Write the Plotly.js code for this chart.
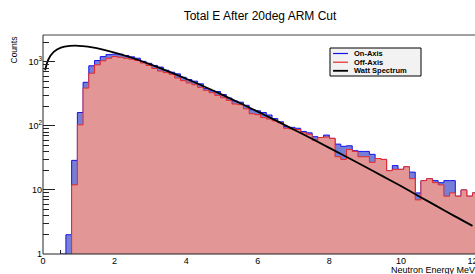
<!DOCTYPE html>
<html>
<head>
<meta charset="utf-8">
<script src="https://cdn.plot.ly/plotly-3.0.1.min.js"></script>
<style>html,body{margin:0;padding:0;background:#fff;overflow:hidden}</style>
</head>
<body>
<div id="chart" style="width:475px;height:274px"></div>
<script>
// ---- data ----
const binWidth = 0.16;   // MeV
const onAxis = [0,0,0,1,2,29,162,480,870,1050,1210,1300,1320,1320,1260,1200,1140,1020,950,880,
  830,740,690,650,575,530,500,455,385,355,345,310,272,245,235,210,180,172,162,148,
  130,116,98,95,92,82,78,68,66,72,64,52,48,49,41,40,40,36,31,30,
  20,24,21,23,19,9,14,15,14,13,14,14,8,10,8,9];
const offAxis = [0,0,0,0,0,12,104,390,665,900,1040,1140,1210,1180,1140,1100,1050,960,880,790,
  720,680,640,560,510,470,440,400,360,330,300,275,250,220,215,185,155,150,135,128,
  120,112,92,90,88,78,74,60,66,67,64,33,30,43,40,33,33,27,31,30,
  20,21,21,23,15,7,14,15,13,12,8,9,8,10,8,9];
const wattE = [0.06,0.15,0.3,0.5,0.75,1,1.25,1.5,2,2.5,3,3.5,4,4.5,5,5.5,6,6.5,7,7.5,8,8.5,9,9.5,10,10.5,11,11.5,12];
const wattY = [740,1090,1430,1670,1775,1785,1730,1640,1400,1150,915,712,546,413,308,228,167,122,88,63.5,45.5,32.4,23,16.3,11.5,8.0,5.6,3.9,2.75];
const xTicks = [0,2,4,6,8,10,12];
const yTickVals = [1,10,100,1000];
const yTickText = ['1','10','10<sup>2</sup>','10<sup>3</sup>'];
const legendNames = ['On-Axis','Off-Axis','Watt Spectrum'];

// ---- geometry ----
const L = 43, T = 35, W = 475 - 43, H = 219;
const px = x => (x - L) / W;
const py = y => 1 - (y - T) / H;

const blueLine = 'rgb(20,20,235)', redLine = 'rgb(230,40,40)';

function stepTrace(vals, name, lineColor, fillColor) {
  const xs = vals.map((v, i) => i * binWidth);
  xs.push(vals.length * binWidth);
  const ys = vals.map(v => v > 0 ? v : 0.01);
  ys.push(ys[ys.length - 1]);
  return {x: xs, y: ys, type: 'scatter', mode: 'lines', name: name,
    line: {shape: 'hv', color: lineColor, width: 1}, fill: 'tozeroy', fillcolor: fillColor,
    hoverinfo: 'skip', showlegend: false};
}

const traces = [
  stepTrace(onAxis, legendNames[0], blueLine, 'rgb(118,126,214)'),
  stepTrace(offAxis, legendNames[1], redLine, 'rgb(226,150,150)'),
  {x: wattE, y: wattY, type: 'scatter', mode: 'lines', name: legendNames[2],
   line: {color: '#000', width: 1.8, shape: 'spline', smoothing: 1}, showlegend: false, hoverinfo: 'skip'}
];

const minorVals = [];
[1,10,100,1000].forEach(d => { for (let m = 2; m <= 9; m++) minorVals.push(m * d); });

const font = 'Liberation Sans, Arial, Helvetica, sans-serif';
const shapes = [
  {type:'line', xref:'paper', yref:'paper', x0:0, x1:1.02, y0:0, y1:0, line:{color:'#222', width:1}, layer:'above'},
  {type:'line', xref:'paper', yref:'paper', x0:0, x1:1.02, y0:1, y1:1, line:{color:'#444', width:1}, layer:'above'},
  {type:'line', xref:'paper', yref:'paper', x0:0, x1:0, y0:0, y1:1, line:{color:'#222', width:1}, layer:'above'},
  // legend box
  {type:'rect', xref:'paper', yref:'paper', x0:px(330), x1:px(421), y0:py(76), y1:py(48),
   fillcolor:'#f2f2f2', line:{color:'#000', width:1}, layer:'above'}
];
const legColors = [blueLine, redLine, '#000'];
const legY = [53.5, 62.2, 70.8];
const annotations = [];
legendNames.forEach((n, i) => {
  shapes.push({type:'line', xref:'paper', yref:'paper', x0:px(333), x1:px(348), y0:py(legY[i]), y1:py(legY[i]),
    line:{color:legColors[i], width: i===2 ? 1.8 : 1.2}, layer:'above'});
  annotations.push({xref:'paper', yref:'paper', x:px(352), y:py(legY[i]), xanchor:'left', yanchor:'middle',
    text:'<b>' + n + '</b>', showarrow:false, font:{family:font, size:7.5, color:'#000'}});
});
annotations.push({xref:'paper', yref:'paper', x:px(14), y:py(49.5), textangle:-90, xanchor:'center', yanchor:'middle',
  text:'Counts', showarrow:false, font:{family:font, size:8.5, color:'#000'}});
annotations.push({xref:'paper', yref:'paper', x:px(477), y:py(269.5), xanchor:'right', yanchor:'middle',
  text:'Neutron Energy MeV', showarrow:false, font:{family:font, size:9, color:'#000'}});

const layout = {
  width: 475, height: 274,
  margin: {l: L, r: 0, t: T, b: 274 - T - H, pad: 0},
  paper_bgcolor: '#fff', plot_bgcolor: '#fff',
  showlegend: false,
  title: {text: 'Total E After 20deg ARM Cut', xref:'container', yref:'container',
    x: 260/475, xanchor:'center', y: 1 - 16/274, yanchor:'middle',
    font: {family: font, size: 12, color: '#000'}},
  xaxis: {range: [0, 12.07], tickmode:'array', tickvals: xTicks, ticks:'inside', ticklen: 8, tickcolor:'#222',
    showgrid:false, zeroline:false, showline:false, layer:'below traces', ticklabeloverflow:'allow',
    tickfont:{family:font, size:9, color:'#000'},
    minor:{tickmode:'array', tickvals:[0.5,1,1.5,2.5,3,3.5,4.5,5,5.5,6.5,7,7.5,8.5,9,9.5,10.5,11,11.5], ticks:'inside', ticklen:4, tickcolor:'#222'}},
  yaxis: {type:'log', range:[0, 3.42], tickmode:'array', tickvals: yTickVals, ticktext: yTickText,
    ticks:'inside', ticklen: 12, tickcolor:'#222', showgrid:false, zeroline:false, showline:false,
    tickfont:{family:font, size:9, color:'#000'},
    minor:{tickmode:'array', tickvals: minorVals, ticks:'inside', ticklen:6, tickcolor:'#222'}},
  shapes: shapes,
  annotations: annotations
};

Plotly.newPlot('chart', traces, layout, {displayModeBar:false, staticPlot:true});
</script>
</body>
</html>
